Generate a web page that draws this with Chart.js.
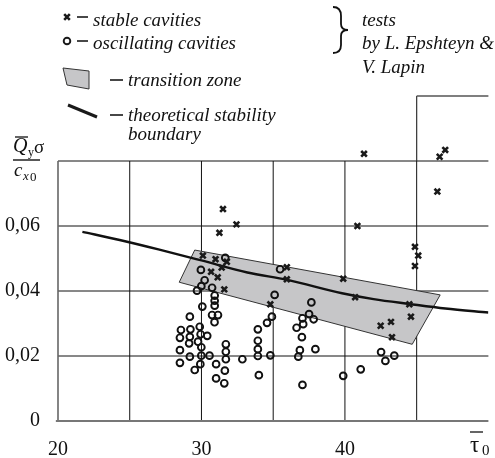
<!DOCTYPE html>
<html>
<head>
<meta charset="utf-8">
<script src="https://cdn.jsdelivr.net/npm/chart.js@4.4.1/dist/chart.umd.min.js"></script>
<style>
  html, body { margin: 0; padding: 0; background: #fff; }
  #wrap { position: relative; width: 495px; height: 458px; }
  #wrap canvas, #wrap svg { position: absolute; left: 0; top: 0; }
  svg { pointer-events: none; }
  svg text { font-family: "Liberation Serif", "Times New Roman", serif; fill: #111; }
  .it { font-style: italic; font-size: 19px; }
</style>
</head>
<body>
<div id="wrap">
  <canvas id="chart" width="495" height="458"></canvas>
  <svg width="495" height="458" viewBox="0 0 495 458">
    <!-- legend -->
    <g stroke="#1a1a1a" stroke-width="2.6" fill="none">
      <path d="M64.2,14.2 L69.8,19.8 M69.8,14.2 L64.2,19.8"/>
      <circle cx="67" cy="41" r="3.3" stroke-width="1.9"/>
      <line x1="77" y1="17" x2="88" y2="17" stroke-width="1.6"/>
      <line x1="77" y1="41" x2="88" y2="41" stroke-width="1.6"/>
      <line x1="110" y1="80" x2="123" y2="80" stroke-width="1.6"/>
      <line x1="110" y1="115" x2="123" y2="115" stroke-width="1.6"/>
      <line x1="68" y1="105" x2="97" y2="117" stroke-width="3"/>
    </g>
    <polygon points="63,68 89,71 89,89 67,85" fill="#c6c6c8" stroke="#333" stroke-width="1"/>
    <text class="it" x="93" y="26">stable cavities</text>
    <text class="it" x="93" y="49">oscillating cavities</text>
    <text class="it" x="128" y="86">transition zone</text>
    <text class="it" x="128" y="121">theoretical stability</text>
    <text class="it" x="128" y="140">boundary</text>
    <path d="M333,7 C339,7 341,10 341,16 L341,24 C341,28 343,30 348,30 C343,30 341,32 341,36 L341,45 C341,50 339,53 333,53"
          fill="none" stroke="#111" stroke-width="1.8"/>
    <text class="it" x="362" y="26">tests</text>
    <text class="it" x="362" y="49">by L. Epshteyn &amp;</text>
    <text class="it" x="362" y="73">V. Lapin</text>
    <!-- y axis title -->
    <line x1="15" y1="137" x2="28" y2="137" stroke="#111" stroke-width="1.3"/>
    <text x="13" y="152" style="font-style:italic;font-size:20px">Q</text>
    <text x="28" y="156" style="font-size:12px">y</text>
    <text x="34" y="153" style="font-size:19px">σ</text>
    <line x1="13" y1="160" x2="40" y2="160" stroke="#111" stroke-width="1.4"/>
    <text x="14" y="176" style="font-style:italic;font-size:19px">c</text>
    <text x="23" y="180" style="font-style:italic;font-size:13px">x</text>
    <text x="30" y="181" style="font-size:13px">0</text>
    <!-- x axis title -->
    <line x1="470" y1="432" x2="483" y2="432" stroke="#111" stroke-width="1.3"/>
    <text x="470" y="452" style="font-size:23px">τ</text>
    <text x="482" y="455" style="font-size:15px">0</text>
  </svg>
</div>
<script>
// tick labels and grid
const xTicks = [20, 30, 40];
const yTicks = [0, 0.02, 0.04, 0.06];
const xGrid = [25, 30, 35, 40, 45];
const yGrid = [0.02, 0.04, 0.06, 0.08];

// tests by L. Epshteyn & V. Lapin  [tau0, Qy*sigma/cx0]
const stableCavities = [
  [41.33, 0.0822], [46.60, 0.0813], [46.99, 0.0834], [46.44, 0.0706],
  [31.50, 0.0652], [32.44, 0.0605], [31.25, 0.0579], [40.87, 0.0600],
  [44.88, 0.0536], [45.11, 0.0509], [44.88, 0.0477],
  [30.10, 0.0509], [30.98, 0.0498], [31.77, 0.0490], [31.41, 0.0472],
  [30.67, 0.0459], [31.13, 0.0442], [31.59, 0.0405],
  [35.95, 0.0473], [35.95, 0.0436], [39.88, 0.0438], [40.71, 0.0381],
  [34.80, 0.0359], [44.49, 0.0359], [44.60, 0.0321],
  [42.49, 0.0293], [43.21, 0.0305], [43.28, 0.0258]
];

const oscillatingCavities = [
  [31.66, 0.0502], [29.96, 0.0465], [30.22, 0.0433], [29.99, 0.0415],
  [29.69, 0.0401], [30.74, 0.0410], [30.92, 0.0386], [30.92, 0.0370],
  [30.92, 0.0355], [30.06, 0.0352], [30.74, 0.0326], [31.15, 0.0326],
  [30.91, 0.0304], [29.19, 0.0321], [29.88, 0.0290], [28.57, 0.0280],
  [29.23, 0.0282], [28.50, 0.0256], [29.19, 0.0259], [29.94, 0.0267],
  [30.40, 0.0262], [29.76, 0.0244], [29.14, 0.0239], [29.99, 0.0227],
  [31.70, 0.0236], [31.70, 0.0213], [28.50, 0.0218], [31.70, 0.0190],
  [29.19, 0.0198], [29.99, 0.0201], [30.56, 0.0201], [28.50, 0.0179],
  [29.92, 0.0175], [31.02, 0.0175], [29.53, 0.0157], [31.63, 0.0155],
  [31.02, 0.0131], [31.59, 0.0116], [32.85, 0.0190],
  [35.48, 0.0467], [35.10, 0.0388], [34.91, 0.0321], [34.57, 0.0302],
  [33.93, 0.0282], [33.93, 0.0247], [33.93, 0.0221], [33.93, 0.0200],
  [34.80, 0.0202], [34.00, 0.0141],
  [37.66, 0.0365], [37.50, 0.0329], [37.04, 0.0316], [37.82, 0.0313],
  [36.63, 0.0287], [37.09, 0.0298], [37.00, 0.0258], [36.86, 0.0218],
  [36.75, 0.0198], [37.94, 0.0221], [37.04, 0.0111],
  [39.88, 0.0139], [41.10, 0.0159], [42.52, 0.0212], [42.82, 0.0185], [43.44, 0.0201]
];

// theoretical stability boundary
const boundaryCurve = [
  [21.7, 0.0582], [24.3, 0.0557], [27, 0.0528], [30, 0.0494], [33.2, 0.0457],
  [36, 0.0434], [39.8, 0.0393], [42, 0.0375], [44.5, 0.0360], [47, 0.0346], [50, 0.0334]
];

// transition zone outline (closed)
const transitionZone = [
  [29.53, 0.0526], [46.64, 0.0388], [44.69, 0.0236], [28.45, 0.0427], [29.53, 0.0526]
];

const toXY = arr => arr.map(p => ({ x: p[0], y: p[1] }));

//Grid drawn through the scales (partial grid like the original)
const gridPlugin = {
  id: 'grid',
  beforeDatasetsDraw(chart) {
    const { ctx, scales: { x, y } } = chart;
    const line = (x1, y1, x2, y2, color, w) => {
      ctx.beginPath();
      ctx.strokeStyle = color;
      ctx.lineWidth = w;
      ctx.moveTo(x.getPixelForValue(x1), y.getPixelForValue(y1));
      ctx.lineTo(x.getPixelForValue(x2), y.getPixelForValue(y2));
      ctx.stroke();
    };
    ctx.save();
    yGrid.forEach(v => line(20, v, 50, v, '#111', 1));
    xGrid.forEach(v => line(v, 0, v, 0.08, '#111', 1));
    line(45, 0.08, 45, 0.1, '#333', 1.2);
    line(45, 0.1, 50, 0.1, '#555', 1.5);
    line(20, 0, 20, 0.08, '#666', 1.6);
    line(19.85, 0, 50, 0, '#777', 2);
    ctx.restore();
  }
};

const serif = '"Liberation Serif", "Times New Roman", serif';

new Chart(document.getElementById('chart'), {
  type: 'scatter',
  data: {
    datasets: [
      {
        data: toXY(stableCavities),
        pointStyle: 'crossRot',
        pointRadius: 4,
        borderWidth: 2.6,
        borderColor: '#1a1a1a'
      },
      {
        data: toXY(oscillatingCavities),
        pointStyle: 'circle',
        pointRadius: 3.4,
        borderWidth: 1.9,
        borderColor: '#111',
        backgroundColor: 'rgba(0,0,0,0)'
      },
      {
        data: toXY(boundaryCurve),
        showLine: true,
        pointRadius: 0,
        borderColor: '#111',
        borderWidth: 2.4,
        cubicInterpolationMode: 'monotone'
      },
      {
        data: toXY(transitionZone),
        showLine: true,
        pointRadius: 0,
        tension: 0,
        borderColor: '#333',
        borderWidth: 1,
        backgroundColor: '#c6c6c8',
        fill: 'shape'
      }
    ]
  },
  options: {
    responsive: false,
    animation: false,
    layout: { padding: { top: 96, right: 0, left: 0, bottom: 0 } },
    plugins: { legend: { display: false }, tooltip: { enabled: false } },
    scales: {
      x: {
        type: 'linear',
        min: 20,
        max: 50,
        grid: { display: false, drawTicks: false },
        border: { display: false },
        afterBuildTicks: s => { s.ticks = xTicks.map(v => ({ value: v })); },
        afterFit: s => { s.height = 37; },
        ticks: { padding: 17, color: '#111', font: { family: serif, size: 20 } }
      },
      y: {
        type: 'linear',
        min: 0,
        max: 0.1,
        grid: { display: false, drawTicks: false },
        border: { display: false },
        afterBuildTicks: s => { s.ticks = yTicks.map(v => ({ value: v })); },
        afterFit: s => { s.width = 58; },
        ticks: {
          padding: 18,
          color: '#111',
          font: { family: serif, size: 20 },
          callback: v => v === 0 ? '0' : v.toFixed(2).replace('.', ',')
        }
      }
    }
  },
  plugins: [gridPlugin]
});
</script>
</body>
</html>
